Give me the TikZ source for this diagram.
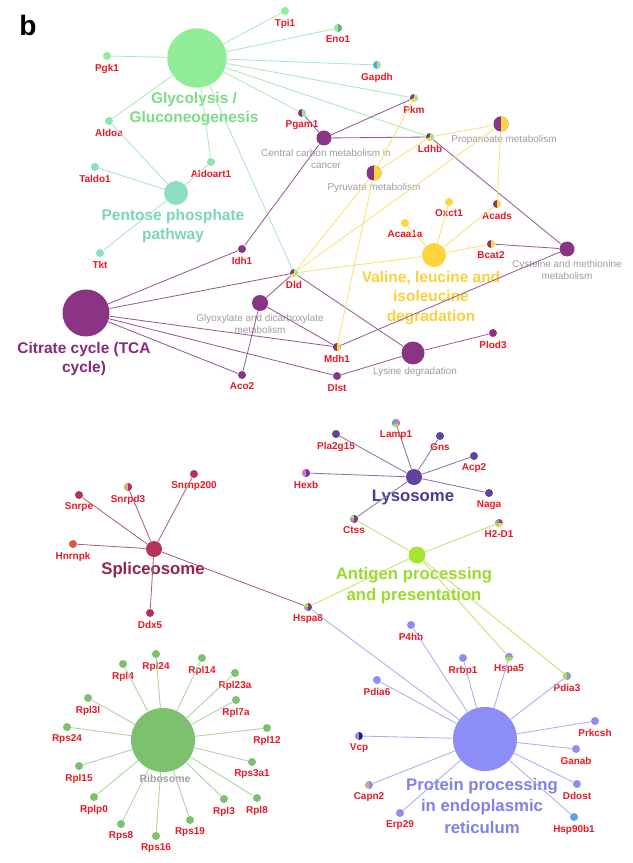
\documentclass[tikz,border=0pt]{standalone}
\usepackage{fontspec}
\setmainfont{Liberation Sans}
\definecolor{glyco}{RGB}{144,236,150}
\definecolor{glycotext}{RGB}{125,220,135}
\definecolor{glycoedge}{RGB}{170,232,180}
\definecolor{aldo}{RGB}{140,228,176}
\definecolor{eno}{RGB}{112,172,122}
\definecolor{pento}{RGB}{142,222,194}
\definecolor{pentotext}{RGB}{122,214,180}
\definecolor{pentoedge}{RGB}{170,228,208}
\definecolor{tca}{RGB}{140,52,132}
\definecolor{tcatext}{RGB}{135,40,125}
\definecolor{tcaedge}{RGB}{152,88,148}
\definecolor{vli}{RGB}{255,212,60}
\definecolor{vlitext}{RGB}{250,208,60}
\definecolor{vliedge}{RGB}{250,226,110}
\definecolor{genered}{RGB}{232,24,36}
\definecolor{pathgray}{RGB}{158,158,158}
\definecolor{splice}{RGB}{180,52,85}
\definecolor{splicetext}{RGB}{150,35,72}
\definecolor{spliceedge}{RGB}{175,92,118}
\definecolor{lyso}{RGB}{98,66,156}
\definecolor{lysotext}{RGB}{82,56,142}
\definecolor{lysoedge}{RGB}{135,115,175}
\definecolor{antigen}{RGB}{168,228,50}
\definecolor{antigentext}{RGB}{155,218,45}
\definecolor{antigenedge}{RGB}{190,228,100}
\definecolor{er}{RGB}{140,142,246}
\definecolor{ertext}{RGB}{128,130,232}
\definecolor{eredge}{RGB}{170,172,240}
\definecolor{ribo}{RGB}{125,192,110}
\definecolor{riboedge}{RGB}{168,210,158}
\definecolor{tanc}{RGB}{210,175,125}
\definecolor{pinkish}{RGB}{225,110,200}
\definecolor{skyblue}{RGB}{95,160,240}
\definecolor{navyc}{RGB}{30,40,90}
\definecolor{hnrn}{RGB}{215,90,65}
\begin{document}
\begin{tikzpicture}[x=0.3mm, y=-0.3mm, line width=0.7pt,
  gene/.style={circle, inner sep=0pt, minimum size=2.4mm, fill=#1},
  hub/.style 2 args={circle, inner sep=0pt, minimum size=#2, fill=#1},
  every label/.style={font=\fontsize{8.5}{9}\selectfont\bfseries, text=genered, inner sep=1pt},
  label distance=0.6mm,
  bigname/.style={font=\fontsize{13.2}{17}\selectfont\bfseries, align=center, inner sep=0pt},
  bigname2/.style={font=\fontsize{14.3}{18}\selectfont\bfseries, align=center, inner sep=0pt},
  pathname/.style={font=\fontsize{8.5}{10.5}\selectfont, text=pathgray, align=center, inner sep=0pt},
  halves/.style 2 args={path picture={
    \fill[#1] (path picture bounding box.south west) rectangle (path picture bounding box.north);
    \fill[#2] (path picture bounding box.south) rectangle (path picture bounding box.north east);}},
  tophalf/.style 2 args={path picture={
    \fill[#1] (path picture bounding box.north west) rectangle (path picture bounding box.east);
    \fill[#2] (path picture bounding box.west) rectangle (path picture bounding box.south east);}},
  pie3/.style n args={3}{path picture={
    \fill[#1] (path picture bounding box.center) -- ++(90:3mm) arc[start angle=90, end angle=210, radius=3mm] -- cycle;
    \fill[#2] (path picture bounding box.center) -- ++(210:3mm) arc[start angle=210, end angle=330, radius=3mm] -- cycle;
    \fill[#3] (path picture bounding box.center) -- ++(330:3mm) arc[start angle=330, end angle=450, radius=3mm] -- cycle;}},
  pie4/.style n args={4}{path picture={
    \fill[#1] (path picture bounding box.north west) rectangle (path picture bounding box.center);
    \fill[#2] (path picture bounding box.north) rectangle (path picture bounding box.east);
    \fill[#3] (path picture bounding box.west) rectangle (path picture bounding box.south);
    \fill[#4] (path picture bounding box.center) rectangle (path picture bounding box.south east);}}
]
    \useasboundingbox[fill=white] (0,0) rectangle (632,863);
    \node[font=\fontsize{24}{24}\selectfont\bfseries, inner sep=0pt] (panelb) at (28,25) {b};

    % glycolysis and pentose phosphate
    \node[hub={glyco}{17.8mm}] (glyco) at (197,58) {};
    \node[bigname, text=glycotext] (glycolbl) at (194,109) {Glycolysis /\\Gluconeogenesis};
    \node[gene=glyco, label=below:Tpi1] (tpi) at (285,11) {};
    \node[gene=glyco, halves={glyco}{eno}, label=below:Eno1] (eno) at (338,28) {};
    \node[gene=glyco, halves={skyblue}{glyco}, label=below:Gapdh] (gapdh) at (377,65) {};
    \node[gene=glyco, pie3={tca}{vli}{glyco}, label=below:Pkm] (pkm) at (414,98) {};
    \node[gene=glyco, halves={tca}{glyco}, label=below:Pgam1] (pgam) at (302,113) {};
    \node[gene=glyco, label=below:Pgk1] (pgk) at (107,56) {};
    \node[gene=aldo, label=below:Aldoa] (aldoa) at (109,121) {};
    \node[gene=aldo, label=below:Aldoart1] (aldoart) at (211,162) {};
    \node[gene=pento, label=below:Taldo1] (taldo) at (95,167) {};
    \node[hub={pento}{7.2mm}] (pentose) at (176,193) {};
    \node[bigname, text=pentotext] (pentoselbl) at (173,226) {Pentose phosphate\\pathway};
    \node[gene=pento, label=below:Tkt] (tkt) at (100,253) {};

    % carbon metabolism
    \node[hub={tca}{4.5mm}] (central) at (324,138) {};
    \node[pathname] (centrallbl) at (326,159) {Central carbon metabolism in\\cancer};
    \node[gene=glyco, pie3={tca}{vli}{glyco}, label=below:Ldhb] (ldhb) at (430,137) {};
    \node[hub={tca}{4.5mm}, halves={tca}{vli}] (propanoate) at (501,124) {};
    \node[pathname] (propanoatelbl) at (504,140) {Propanoate metabolism};
    \node[hub={tca}{4.5mm}, halves={tca}{vli}] (pyruvate) at (374,173) {};
    \node[pathname] (pyruvatelbl) at (374,188) {Pyruvate metabolism};
    \node[gene=vli, label=below:Oxct1] (oxct) at (449,202) {};
    \node[gene=vli, halves={tca}{vli}, label=below:Acads] (acads) at (497,204) {};
    \node[gene=vli, label=below:Acaa1a] (acaa) at (405,223) {};
    \node[hub={vli}{7.2mm}] (valine) at (434,255) {};
    \node[bigname, text=vlitext] (valinelbl) at (431,298) {Valine, leucine and\\isoleucine\\degradation};
    \node[gene=vli, halves={tca}{vli}, label=below:Bcat2] (bcat) at (491,244) {};
    \node[hub={tca}{4.5mm}] (cysteine) at (567,249) {};
    \node[pathname] (cysteinelbl) at (567,270) {Cysteine and methionine\\metabolism};
    \node[gene=tca, label=below:Idh1] (idh) at (242,249) {};
    \node[gene=glyco, pie3={tca}{vli}{glyco}, label=below:Dld] (dld) at (294,273) {};
    \node[hub={tca}{14.1mm}] (citrate) at (86,313) {};
    \node[bigname, text=tcatext] (citratelbl) at (84,359) {Citrate cycle (TCA\\cycle)};
    \node[hub={tca}{4.8mm}] (glyoxylate) at (260,303) {};
    \node[pathname] (glyoxylatelbl) at (260,324) {Glyoxylate and dicarboxylate\\metabolism};
    \node[gene=tca, label=below:Aco2] (aco) at (242,375) {};
    \node[gene=tca, halves={tca}{vli}, label=below:Mdh1] (mdh) at (337,347) {};
    \node[gene=tca, label=below:Dlst] (dlst) at (337,376) {};
    \node[hub={tca}{6.9mm}] (lysine) at (413,353) {};
    \node[pathname] (lysinelbl) at (415,372) {Lysine degradation};
    \node[gene=tca, label=below:Plod3] (plod) at (493,333) {};

    \draw[glycoedge] (glyco) -- (tpi);
    \draw[glycoedge] (glyco) -- (eno);
    \draw[glycoedge] (glyco) -- (gapdh);
    \draw[glycoedge] (glyco) -- (pkm);
    \draw[glycoedge] (glyco) -- (ldhb);
    \draw[glycoedge] (glyco) -- (pgam);
    \draw[glycoedge] (glyco) -- (pgk);
    \draw[glycoedge] (glyco) -- (aldoa);
    \draw[glycoedge] (glyco) -- (aldoart);
    \draw[glycoedge] (glyco) -- (dld);
    \draw[pentoedge] (pentose) -- (aldoa);
    \draw[pentoedge] (pentose) -- (taldo);
    \draw[pentoedge] (pentose) -- (aldoart);
    \draw[pentoedge] (pentose) -- (tkt);
    \draw[tcaedge] (central) -- (pgam);
    \draw[tcaedge] (central) -- (pkm);
    \draw[tcaedge] (central) -- (ldhb);
    \draw[tcaedge] (central) -- (idh);
    \draw[tcaedge] (cysteine) -- (ldhb);
    \draw[tcaedge] (cysteine) -- (bcat);
    \draw[tcaedge] (cysteine) -- (mdh);
    \draw[tcaedge] (citrate) -- (idh);
    \draw[tcaedge] (citrate) -- (dld);
    \draw[tcaedge] (citrate) -- (mdh);
    \draw[tcaedge] (citrate) -- (dlst);
    \draw[tcaedge] (citrate) -- (aco);
    \draw[tcaedge] (glyoxylate) -- (dld);
    \draw[tcaedge] (glyoxylate) -- (aco);
    \draw[tcaedge] (glyoxylate) -- (mdh);
    \draw[tcaedge] (lysine) -- (dld);
    \draw[tcaedge] (lysine) -- (dlst);
    \draw[tcaedge] (lysine) -- (plod);
    \draw[vliedge] (pyruvate) -- (pkm);
    \draw[vliedge] (pyruvate) -- (ldhb);
    \draw[vliedge] (pyruvate) -- (dld);
    \draw[vliedge] (pyruvate) -- (mdh);
    \draw[vliedge] (propanoate) -- (ldhb);
    \draw[vliedge] (propanoate) -- (acads);
    \draw[vliedge] (propanoate) -- (dld);
    \draw[vliedge] (valine) -- (acaa);
    \draw[vliedge] (valine) -- (oxct);
    \draw[vliedge] (valine) -- (acads);
    \draw[vliedge] (valine) -- (bcat);
    \draw[vliedge] (valine) -- (dld);

    % spliceosome, lysosome, antigen
    \node[hub={splice}{4.8mm}] (spliceosome) at (154,549) {};
    \node[bigname2, text=splicetext] (spliceosomelbl) at (153,570) {Spliceosome};
    \node[gene=splice, label=below:Snrpe] (snrpe) at (79,495) {};
    \node[gene=splice, halves={tanc}{splice}, label=below:Snrpd3] (snrpd) at (128,487) {};
    \node[gene=splice, label=below:Snrnp200] (snrnp) at (194,474) {};
    \node[gene=hnrn, label=below:Hnrnpk] (hnrnpk) at (73,544) {};
    \node[gene=splice, label=below:Ddx5] (ddx) at (150,613) {};
    \node[gene=er, pie4={antigen}{splice}{er}{lyso}, label=below:Hspa8] (hspa8) at (308,607) {};
    \node[hub={lyso}{4.8mm}] (lysosome) at (414,477) {};
    \node[bigname2, text=lysotext] (lysosomelbl) at (413,497) {Lysosome};
    \node[gene=lyso, label=below:Pla2g15] (pla) at (336,434) {};
    \node[gene=lyso, pie3={skyblue}{antigen}{pinkish}, label=below:Lamp1] (lamp) at (396,423) {};
    \node[gene=lyso, label=below:Gns] (gns) at (440,436) {};
    \node[gene=lyso, label=below:Acp2] (acp) at (474,456) {};
    \node[gene=lyso, halves={pinkish}{lyso}, label=below:Hexb] (hexb) at (306,473) {};
    \node[gene=lyso, label=below:Naga] (naga) at (489,493) {};
    \node[gene=lyso, pie4={antigen}{lyso}{er}{splice}, label=below:Ctss] (ctss) at (354,519) {};
    \node[gene=er, pie4={er}{splice}{antigen}{vli}, label=below:H2-D1] (h2d) at (499,523) {};
    \node[hub={antigen}{5.1mm}] (antigen) at (417,555) {};
    \node[bigname2, text=antigentext] (antigenlbl) at (414,586) {Antigen processing\\and presentation};
    \node[gene=er, tophalf={er}{antigen}, label=below:Hspa5] (hspa5) at (509,657) {};
    \node[gene=er, halves={antigen}{er}, label=below:Pdia3] (pdia3) at (567,676) {};

    % protein processing in ER
    \node[hub={er}{19.2mm}] (erhub) at (485,739) {};
    \node[bigname2, text=ertext] (erlbl) at (482,806) {Protein processing\\in endoplasmic\\reticulum};
    \node[gene=er, label=below:P4hb] (p4hb) at (411,625) {};
    \node[gene=er, label=below:Rrbp1] (rrbp) at (463,658) {};
    \node[gene=er, label=below:Pdia6] (pdia6) at (377,680) {};
    \node[gene=er, halves={er}{navyc}, label=below:Vcp] (vcp) at (359,736) {};
    \node[gene=er, halves={tanc}{er}, label=below:Capn2] (capn) at (369,785) {};
    \node[gene=er, label=below:Erp29] (erp) at (400,813) {};
    \node[gene=er, label=below:Prkcsh] (prkcsh) at (595,721) {};
    \node[gene=er, label=below:Ganab] (ganab) at (576,749) {};
    \node[gene=er, label=below:Ddost] (ddost) at (577,784) {};
    \node[gene=skyblue, label=below:Hsp90b1] (hsp) at (574,817) {};

    % ribosome
    \node[hub={ribo}{19.2mm}] (ribosome) at (163,740) {};
    \node[pathname, font=\fontsize{9}{10.5}\selectfont\bfseries] (ribosomelbl) at (165,779) {Ribosome};
    \node[gene=ribo, label=below:Rpl24] (rpl24) at (156,654) {};
    \node[gene=ribo, label=below:Rpl4] (rpl4) at (123,664) {};
    \node[gene=ribo, label=below:Rpl14] (rpl14) at (202,658) {};
    \node[gene=ribo, label=below:Rpl23a] (rpl23a) at (235,673) {};
    \node[gene=ribo, label=below:Rpl7a] (rpl7a) at (236,700) {};
    \node[gene=ribo, label=below:Rpl12] (rpl12) at (267,728) {};
    \node[gene=ribo, label=below:Rps3a1] (rps3a) at (252,762) {};
    \node[gene=ribo, label=below:Rpl8] (rpl8) at (257,798) {};
    \node[gene=ribo, label=below:Rpl3] (rpl3) at (224,799) {};
    \node[gene=ribo, label=below:Rps19] (rps19) at (190,820) {};
    \node[gene=ribo, label=below:Rps16] (rps16) at (156,836) {};
    \node[gene=ribo, label=below:Rps8] (rps8) at (121,824) {};
    \node[gene=ribo, label=below:Rplp0] (rplp0) at (94,797) {};
    \node[gene=ribo, label=below:Rpl15] (rpl15) at (79,766) {};
    \node[gene=ribo, label=below:Rps24] (rps24) at (67,727) {};
    \node[gene=ribo, label=below:Rpl3l] (rpl3l) at (88,698) {};

    \draw[spliceedge] (spliceosome) -- (snrpe);
    \draw[spliceedge] (spliceosome) -- (snrpd);
    \draw[spliceedge] (spliceosome) -- (snrnp);
    \draw[spliceedge] (spliceosome) -- (hnrnpk);
    \draw[spliceedge] (spliceosome) -- (ddx);
    \draw[spliceedge] (spliceosome) -- (hspa8);
    \draw[lysoedge] (lysosome) -- (pla);
    \draw[lysoedge] (lysosome) -- (lamp);
    \draw[lysoedge] (lysosome) -- (gns);
    \draw[lysoedge] (lysosome) -- (acp);
    \draw[lysoedge] (lysosome) -- (hexb);
    \draw[lysoedge] (lysosome) -- (naga);
    \draw[lysoedge] (lysosome) -- (ctss);
    \draw[antigenedge] (antigen) -- (ctss);
    \draw[antigenedge] (antigen) -- (h2d);
    \draw[antigenedge] (antigen) -- (hspa8);
    \draw[antigenedge] (antigen) -- (hspa5);
    \draw[antigenedge] (antigen) -- (pdia3);
    \draw[eredge] (erhub) -- (hspa8);
    \draw[eredge] (erhub) -- (p4hb);
    \draw[eredge] (erhub) -- (rrbp);
    \draw[eredge] (erhub) -- (hspa5);
    \draw[eredge] (erhub) -- (pdia3);
    \draw[eredge] (erhub) -- (pdia6);
    \draw[eredge] (erhub) -- (vcp);
    \draw[eredge] (erhub) -- (capn);
    \draw[eredge] (erhub) -- (erp);
    \draw[eredge] (erhub) -- (prkcsh);
    \draw[eredge] (erhub) -- (ganab);
    \draw[eredge] (erhub) -- (ddost);
    \draw[eredge] (erhub) -- (hsp);
    \draw[riboedge] (ribosome) -- (rpl24);
    \draw[riboedge] (ribosome) -- (rpl4);
    \draw[riboedge] (ribosome) -- (rpl14);
    \draw[riboedge] (ribosome) -- (rpl23a);
    \draw[riboedge] (ribosome) -- (rpl7a);
    \draw[riboedge] (ribosome) -- (rpl12);
    \draw[riboedge] (ribosome) -- (rps3a);
    \draw[riboedge] (ribosome) -- (rpl8);
    \draw[riboedge] (ribosome) -- (rpl3);
    \draw[riboedge] (ribosome) -- (rps19);
    \draw[riboedge] (ribosome) -- (rps16);
    \draw[riboedge] (ribosome) -- (rps8);
    \draw[riboedge] (ribosome) -- (rplp0);
    \draw[riboedge] (ribosome) -- (rpl15);
    \draw[riboedge] (ribosome) -- (rps24);
    \draw[riboedge] (ribosome) -- (rpl3l);
\end{tikzpicture}
\end{document}
